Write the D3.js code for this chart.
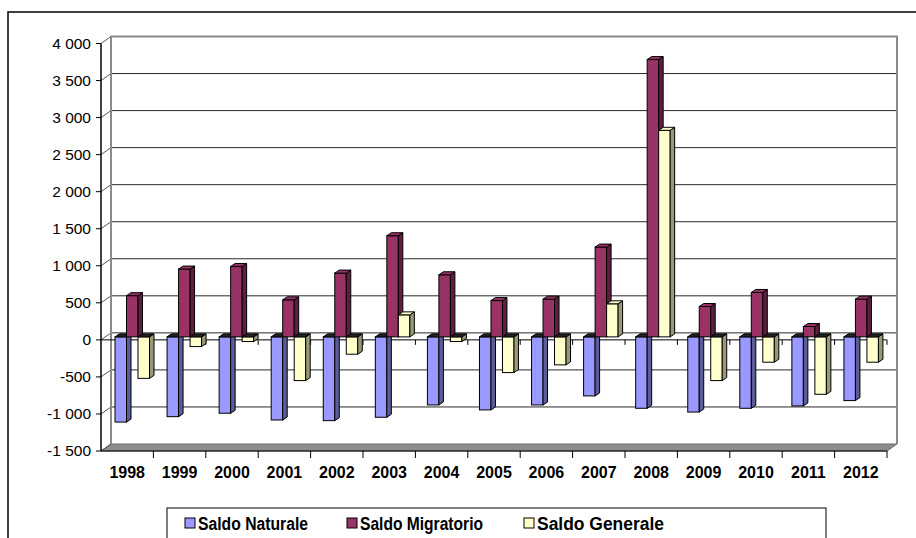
<!DOCTYPE html>
<html>
<head>
<meta charset="utf-8">
<script src="https://cdn.jsdelivr.net/npm/d3@7"></script>
<style>
body { margin: 0; background: #fff; }
svg { display: block; font-family: Arial, "Liberation Sans", sans-serif; }
</style>
</head>
<body>
<div id="chart"></div>
<script>
// values
var years = ['1998','1999','2000','2001','2002','2003','2004','2005','2006','2007','2008','2009','2010','2011','2012'];
var saldoNaturale = [-1150, -1077, -1031, -1122, -1131, -1085, -919, -986, -919, -797, -964, -1015, -964, -932, -860];
var saldoMigratorio = [556, 915, 950, 500, 861, 1365, 838, 490, 509, 1212, 3743, 410, 599, 140, 509];
var saldoGenerale = [-560, -131, -63, -590, -234, 297, -63, -482, -378, 446, 2788, -590, -342, -775, -342];
var yTicks = [-1500, -1000, -500, 0, 500, 1000, 1500, 2000, 2500, 3000, 3500, 4000];
var seriesNames = ['Saldo Naturale', 'Saldo Migratorio', 'Saldo Generale'];

var seriesColors = ['#9999ff', '#993366', '#ffffcc'];
var sideColors = ['#5c5c99', '#5c1f3d', '#99997a'];
var series = [saldoNaturale, saldoMigratorio, saldoGenerale];

var w = 916, h = 538;
var svg = d3.select('#chart').append('svg')
    .attr('width', w)
    .attr('height', h);

// 3d geometry: front plane, bar plane, back wall
var x0 = 101, x1 = 887;
var wallDx = 10, wallDy = -7;
var barDy = -3, depth = 4.5, rise = 3;

var y = d3.scaleLinear().domain([-1500, 4000]).range([451, 43.5]);
var x = d3.scaleBand().domain(years).range([x0, x1]);
var xb = d3.scaleBand().domain(years).range([103, 884]);
var xs = d3.scaleBand().domain([0, 1, 2]).range([12, 46.5]);

var fmt = d3.formatLocale({decimal: ',', thousands: '\u00a0', grouping: [3], currency: ['', ''], minus: '-'}).format(',');

// chart border
svg.append('path')
    .attr('d', 'M8,538 L8,12 L916,12')
    .attr('fill', 'none')
    .attr('stroke', '#000')
    .attr('stroke-width', 1.5);

// floor
svg.append('polygon')
    .attr('points', [[x0, 451], [x1, 451], [x1 + wallDx, 451 + wallDy], [x0 + wallDx, 451 + wallDy]].join(' '))
    .attr('fill', '#8c8c8c')
    .attr('stroke', '#6e6e6e');

// back wall gridlines
svg.selectAll('line.grid')
    .data(yTicks.filter(function (d) { return d > -1500 && d < 4000; }))
    .enter()
    .append('line')
    .attr('class', 'grid')
    .attr('x1', x0 + wallDx)
    .attr('x2', x1 + wallDx)
    .attr('y1', function (d) { return y(d) + wallDy; })
    .attr('y2', function (d) { return y(d) + wallDy; })
    .attr('stroke', '#2a2a2a')
    .attr('stroke-width', 1);

// side wall diagonals
svg.selectAll('line.diag')
    .data(yTicks)
    .enter()
    .append('line')
    .attr('class', 'diag')
    .attr('x1', x0)
    .attr('x2', x0 + wallDx)
    .attr('y1', function (d) { return y(d); })
    .attr('y2', function (d) { return y(d) + wallDy; })
    .attr('stroke', '#555')
    .attr('stroke-width', 1);

// back wall outline
svg.append('path')
    .attr('d', 'M' + (x0 + wallDx) + ',' + (y(-1500) + wallDy) +
        ' L' + (x0 + wallDx) + ',' + (y(4000) + wallDy) +
        ' L' + (x1 + wallDx) + ',' + (y(4000) + wallDy) +
        ' L' + (x1 + wallDx) + ',' + (y(-1500) + wallDy))
    .attr('fill', 'none')
    .attr('stroke', '#8a8a8a')
    .attr('stroke-width', 2);

// front zero line with ticks
svg.append('line')
    .attr('x1', x0).attr('x2', x1)
    .attr('y1', y(0)).attr('y2', y(0))
    .attr('stroke', '#000');

var bounds = years.map(function (d) { return x(d) + x.bandwidth(); });

svg.selectAll('line.ztick')
    .data(bounds)
    .enter()
    .append('line')
    .attr('class', 'ztick')
    .attr('x1', function (d) { return d; })
    .attr('x2', function (d) { return d; })
    .attr('y1', y(0))
    .attr('y2', y(0) + 5)
    .attr('stroke', '#000');

// bars
years.forEach(function (yr, i) {
    for (var s = 0; s < 3; s++) {
        var v = series[s][i];
        var bx = xb(yr) + xs(s);
        var bw = xs.bandwidth();
        var a = y(0) + barDy, b = y(v) + barDy;
        var top = Math.min(a, b), bot = Math.max(a, b);
        var g = svg.append('g');
        g.append('rect')
            .attr('x', bx)
            .attr('y', top)
            .attr('width', bw)
            .attr('height', bot - top)
            .attr('fill', seriesColors[s])
            .attr('stroke', '#000')
            .attr('stroke-width', 1);
        g.append('polygon')
            .attr('points', [[bx + bw, top], [bx + bw + depth, top - rise], [bx + bw + depth, bot - rise], [bx + bw, bot]].join(' '))
            .attr('fill', sideColors[s])
            .attr('stroke', '#000')
            .attr('stroke-width', 1);
        g.append('polygon')
            .attr('points', [[bx, top], [bx + bw, top], [bx + bw + depth, top - rise], [bx + depth, top - rise]].join(' '))
            .attr('fill', v >= 0 ? seriesColors[s] : '#222')
            .attr('stroke', '#000')
            .attr('stroke-width', 1);
    }
});

// y axis
svg.append('line')
    .attr('x1', x0).attr('x2', x0)
    .attr('y1', y(4000)).attr('y2', y(-1500))
    .attr('stroke', '#000')
    .attr('stroke-width', 1.5);

svg.selectAll('line.ytick')
    .data(yTicks)
    .enter()
    .append('line')
    .attr('class', 'ytick')
    .attr('x1', x0 - 5).attr('x2', x0)
    .attr('y1', function (d) { return y(d); })
    .attr('y2', function (d) { return y(d); })
    .attr('stroke', '#000');

svg.selectAll('text.ylab')
    .data(yTicks)
    .enter()
    .append('text')
    .attr('class', 'ylab')
    .attr('x', 91)
    .attr('y', function (d) { return y(d) + 5; })
    .attr('text-anchor', 'end')
    .attr('font-size', 15.5)
    .attr('fill', '#000')
    .text(function (d) { return fmt(d); });

// x axis on the floor
svg.append('line')
    .attr('x1', x0).attr('x2', x1)
    .attr('y1', 451).attr('y2', 451)
    .attr('stroke', '#000');

svg.selectAll('line.xtick')
    .data(bounds)
    .enter()
    .append('line')
    .attr('class', 'xtick')
    .attr('x1', function (d) { return d; })
    .attr('x2', function (d) { return d; })
    .attr('y1', 451)
    .attr('y2', 458)
    .attr('stroke', '#000');

svg.selectAll('text.xlab')
    .data(years)
    .enter()
    .append('text')
    .attr('class', 'xlab')
    .attr('x', function (d) { return x(d) + x.bandwidth() / 2; })
    .attr('y', 478)
    .attr('text-anchor', 'middle')
    .attr('font-size', 16)
    .attr('font-weight', 'bold')
    .attr('fill', '#000')
    .text(function (d) { return d; });

// legend
svg.append('rect')
    .attr('x', 167).attr('y', 508)
    .attr('width', 659).attr('height', 40)
    .attr('fill', '#fff')
    .attr('stroke', '#000')
    .attr('stroke-width', 1);

var legX = [185, 347, 524];
var legW = [110, 123, 127];
var leg = svg.selectAll('g.leg')
    .data(seriesNames)
    .enter()
    .append('g')
    .attr('class', 'leg')
    .attr('transform', function (d, i) { return 'translate(' + legX[i] + ',518)'; });

leg.append('rect')
    .attr('width', 10).attr('height', 10)
    .attr('fill', function (d, i) { return seriesColors[i]; })
    .attr('stroke', '#000');

leg.append('text')
    .attr('x', 13)
    .attr('y', 11.5)
    .attr('font-size', 18)
    .attr('font-weight', 'bold')
    .attr('textLength', function (d, i) { return legW[i]; })
    .attr('lengthAdjust', 'spacingAndGlyphs')
    .text(function (d) { return d; });
</script>
</body>
</html>
